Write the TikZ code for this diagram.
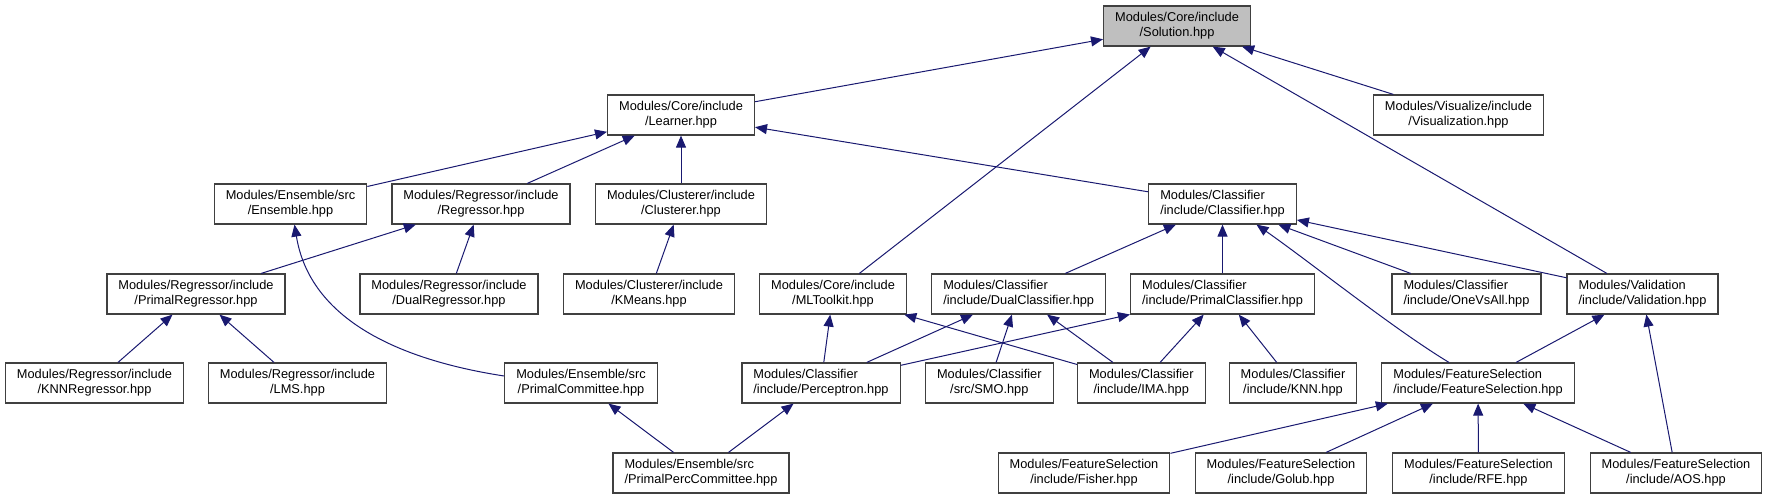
\documentclass[tikz,border=0pt]{standalone}
\usepackage{fontspec}
\setmainfont{Liberation Sans}
\usetikzlibrary{arrows.meta}
\definecolor{edgeblue}{RGB}{25,25,112}
\definecolor{boxgray}{RGB}{64,64,64}
\definecolor{curgray}{RGB}{191,191,191}
\tikzset{
  hfile/.style={draw=boxgray, line width=1.2pt, fill=white, align=center,
                font=\fontsize{12.8}{15}\selectfont, inner xsep=11.5pt, inner ysep=0pt, minimum height=40pt},
  hfilel/.style={hfile, align=left},
  hcur/.style={hfile, fill=curgray},
  dep/.style={draw=edgeblue, line width=1pt, -{Triangle[length=12pt, width=10pt]}},
}

\begin{document}
\begin{tikzpicture}[x=1pt, y=-1pt]
\useasboundingbox (0,0) rectangle (1768,499);

\node[hcur]   (sol)  at (1177,26)    {Modules/Core/include\\/Solution.hpp};
\node[hfile]  (lrn)  at (681,115)    {Modules/Core/include\\/Learner.hpp};
\node[hfile]  (vis)  at (1458.5,115) {Modules/Visualize/include\\/Visualization.hpp};
\node[hfile]  (ens)  at (290.5,204)  {Modules/Ensemble/src\\/Ensemble.hpp};
\node[hfile]  (reg)  at (481,204)    {Modules/Regressor/include\\/Regressor.hpp};
\node[hfile]  (clu)  at (681,204)    {Modules/Clusterer/include\\/Clusterer.hpp};
\node[hfilel] (cls)  at (1222.5,204) {Modules/Classifier\\/include/Classifier.hpp};
\node[hfile]  (preg) at (196,294)    {Modules/Regressor/include\\/PrimalRegressor.hpp};
\node[hfile]  (dreg) at (449,294)    {Modules/Regressor/include\\/DualRegressor.hpp};
\node[hfile]  (kmn)  at (649,294)    {Modules/Clusterer/include\\/KMeans.hpp};
\node[hfile]  (mlt)  at (833,294)    {Modules/Core/include\\/MLToolkit.hpp};
\node[hfilel] (dcls) at (1018.7,294) {Modules/Classifier\\/include/DualClassifier.hpp};
\node[hfilel] (pcls) at (1222.5,294) {Modules/Classifier\\/include/PrimalClassifier.hpp};
\node[hfilel] (ova)  at (1466.5,294) {Modules/Classifier\\/include/OneVsAll.hpp};
\node[hfilel] (val)  at (1642.5,294) {Modules/Validation\\/include/Validation.hpp};
\node[hfile]  (knnr) at (94.5,383)   {Modules/Regressor/include\\/KNNRegressor.hpp};
\node[hfile]  (lms)  at (297.5,383)  {Modules/Regressor/include\\/LMS.hpp};
\node[hfile]  (pcom) at (581,383)    {Modules/Ensemble/src\\/PrimalCommittee.hpp};
\node[hfilel] (perc) at (821,383)    {Modules/Classifier\\/include/Perceptron.hpp};
\node[hfile]  (smo)  at (989.3,383)  {Modules/Classifier\\/src/SMO.hpp};
\node[hfile]  (ima)  at (1141.3,383) {Modules/Classifier\\/include/IMA.hpp};
\node[hfile]  (knn)  at (1293,383)   {Modules/Classifier\\/include/KNN.hpp};
\node[hfilel] (fsel) at (1478,383)   {Modules/FeatureSelection\\/include/FeatureSelection.hpp};
\node[hfilel] (ppc)  at (701,473)    {Modules/Ensemble/src\\/PrimalPercCommittee.hpp};
\node[hfile]  (fis)  at (1084,473)   {Modules/FeatureSelection\\/include/Fisher.hpp};
\node[hfile]  (gol)  at (1281,473)   {Modules/FeatureSelection\\/include/Golub.hpp};
\node[hfile]  (rfe)  at (1478.5,473) {Modules/FeatureSelection\\/include/RFE.hpp};
\node[hfile]  (aos)  at (1676,473)   {Modules/FeatureSelection\\/include/AOS.hpp};

\draw[dep] (lrn) -- (sol);
\draw[dep] (mlt) -- (sol);
\draw[dep] (val) -- (sol);
\draw[dep] (vis) -- (sol);
\draw[dep] (ens) -- (lrn);
\draw[dep] (reg) -- (lrn);
\draw[dep] (clu) -- (lrn);
\draw[dep] (cls) -- (lrn);
\draw[dep] ([yshift=7pt]pcom.west) .. controls (400,360) and (310,320) .. ([xshift=4pt]ens.south);
\draw[dep] (preg) -- (reg);
\draw[dep] (dreg) -- (reg);
\draw[dep] (kmn) -- (clu);
\draw[dep] (dcls) -- (cls);
\draw[dep] (pcls) -- (cls);
\draw[dep] ([xshift=-29pt]fsel.north) .. controls (1395,330) and (1310,262) .. ([xshift=34pt]cls.south);
\draw[dep] (ova) -- (cls);
\draw[dep] (val) -- (cls);
\draw[dep] (knnr) -- (preg);
\draw[dep] (lms) -- (preg);
\draw[dep] (perc) -- (mlt);
\draw[dep] (ima) -- (mlt);
\draw[dep] (perc) -- (dcls);
\draw[dep] (smo) -- (dcls);
\draw[dep] (ima) -- (dcls);
\draw[dep] (perc) -- (pcls);
\draw[dep] (ima) -- (pcls);
\draw[dep] (knn) -- (pcls);
\draw[dep] (fsel) -- (val);
\draw[dep] (aos) -- (val);
\draw[dep] (ppc) -- (pcom);
\draw[dep] (ppc) -- (perc);
\draw[dep] (fis) -- (fsel);
\draw[dep] (gol) -- (fsel);
\draw[dep] (rfe) -- (fsel);
\draw[dep] (aos) -- (fsel);
\end{tikzpicture}
\end{document}
